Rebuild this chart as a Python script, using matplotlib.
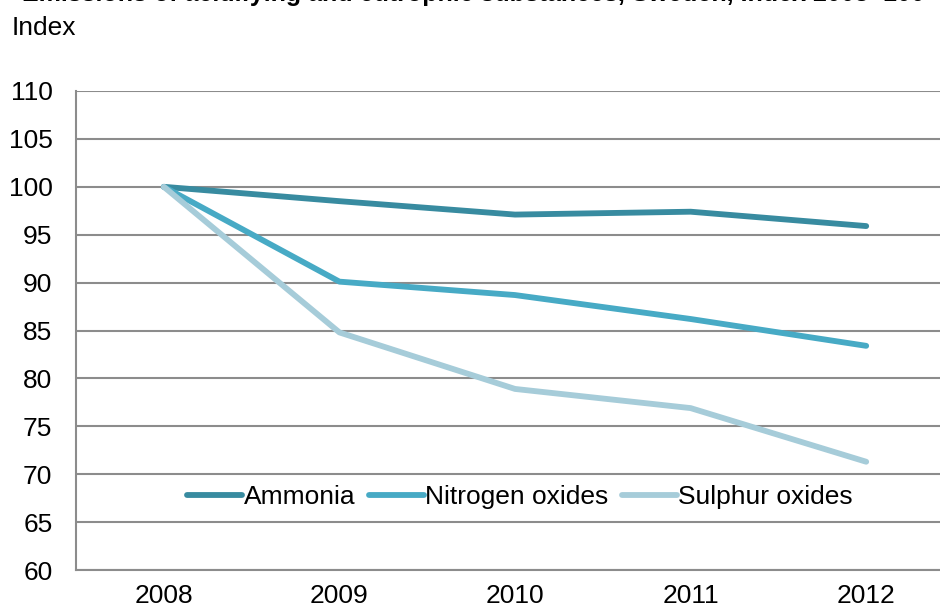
import matplotlib.pyplot as plt

plt.rcParams['font.family'] = ['Liberation Sans', 'DejaVu Sans']

# Data (index, 2008 = 100)
years = ['2008', '2009', '2010', '2011', '2012']
ammonia = [100, 98.5, 97.1, 97.4, 95.9]
nitrogen = [100, 90.1, 88.7, 86.2, 83.4]
sulphur = [100, 84.8, 78.9, 76.9, 71.3]

colors = ['#388ba0', '#47aac5', '#a6ccd9']

fig = plt.figure(figsize=(9.4, 6.1), dpi=100)
# plot area runs past the right edge like in the original
ax = fig.add_axes([76 / 940, 40 / 610, 878 / 940, 479 / 610])

x = range(len(years))
ax.plot(x, ammonia, color=colors[0], lw=4.2, solid_capstyle='round', label='Ammonia', zorder=3)
ax.plot(x, nitrogen, color=colors[1], lw=4.2, solid_capstyle='round', label='Nitrogen oxides', zorder=3)
ax.plot(x, sulphur, color=colors[2], lw=4.2, solid_capstyle='round', label='Sulphur oxides', zorder=3)

ax.set_xlim(-0.5, 4.5)
ax.set_ylim(60, 110)
ax.set_yticks(range(60, 111, 5))
ax.set_xticks(list(x))
ax.set_xticklabels(years)
ax.tick_params(length=0, labelsize=19, pad=10)
ax.tick_params(axis='y', pad=17)
ax.grid(axis='y', color='#8c8c8c', lw=1.5, zorder=1)

for s in ['top', 'right']:
    ax.spines[s].set_visible(False)
for s in ['left', 'bottom']:
    ax.spines[s].set_color('#8c8c8c')
    ax.spines[s].set_linewidth(1.5)

leg = fig.legend(loc='center', bbox_to_anchor=(520 / 940, 1 - 497 / 610), ncol=3,
                 frameon=False, fontsize=19, handlelength=2.1, handletextpad=0.05,
                 columnspacing=0.5)
for line in leg.get_lines():
    line.set_linewidth(4.2)

fig.text(12 / 940, 1 - 28 / 610, 'Index', fontsize=19, va='center', ha='left')
# title is cut off at the top of the original picture
fig.text(22 / 940, 1 - 1 / 610,
         'Emissions of acidifying and eutrophic substances, Sweden, Index 2008=100',
         fontsize=18, fontweight='bold', va='baseline', ha='left')

fig.savefig('out.png', dpi=100)
